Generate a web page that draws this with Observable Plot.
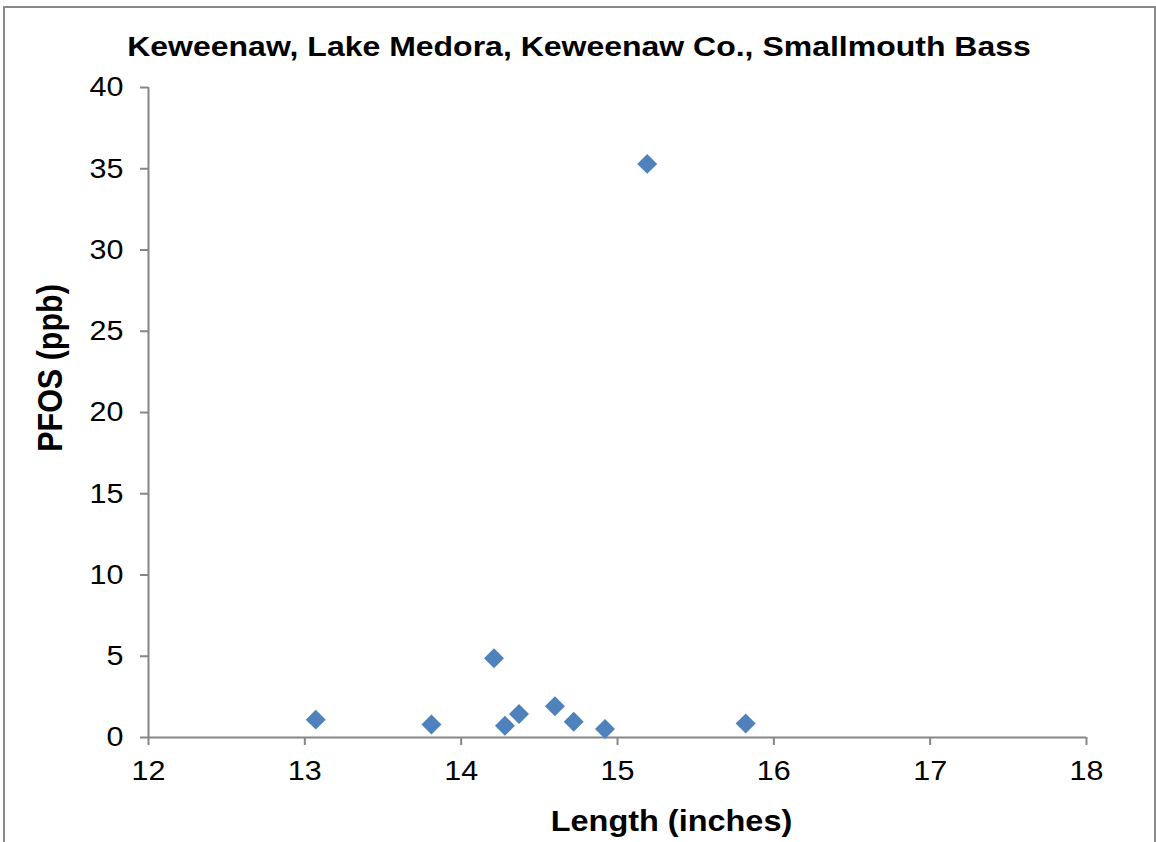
<!DOCTYPE html>
<html>
<head>
<meta charset="utf-8">
<script src="https://cdn.jsdelivr.net/npm/d3@7"></script>
<script src="https://cdn.jsdelivr.net/npm/@observablehq/plot@0.6"></script>
<style>
  html, body { margin: 0; padding: 0; background: #fff; }
  #wrap { position: relative; width: 1156px; height: 842px; overflow: hidden; font-family: "Liberation Sans", Arial, sans-serif; }
  #frame { position: absolute; left: 3px; top: 6px; width: 1153px; height: 900px; box-sizing: border-box; border: 2px solid #8a8a8a; border-bottom: none; }
  #chart { position: absolute; left: 0; top: 0; }
  #labels { position: absolute; left: 0; top: 0; pointer-events: none; }
</style>
</head>
<body>
<div id="wrap">
  <div id="frame"></div>
  <div id="chart"></div>
  <svg id="labels" width="1156" height="842"></svg>
</div>
<script>
// ---- data ----
const title = "Keweenaw, Lake Medora, Keweenaw Co., Smallmouth Bass";
const xLabel = "Length (inches)";
const yLabel = "PFOS (ppb)";
const lengths = [13.07, 13.81, 14.21, 14.28, 14.37, 14.60, 14.72, 14.92, 15.19, 15.82];
const pfos    = [1.1,   0.8,   4.87,  0.72,  1.44,  1.93,  0.97,  0.52,  35.3,  0.86];
const xTicks = [12, 13, 14, 15, 16, 17, 18];
const yTicks = [0, 5, 10, 15, 20, 25, 30, 35, 40];

const rows = lengths.map((x, i) => ({length: x, pfos: pfos[i]}));

const axisGray = "#868686";
const chart = Plot.plot({
  width: 1156,
  height: 842,
  marginLeft: 148,
  marginRight: 70,
  marginTop: 87,
  marginBottom: 105,
  style: {fontFamily: "'Liberation Sans', Arial, sans-serif", background: "transparent", color: "black"},
  x: {domain: [xTicks[0], xTicks[xTicks.length - 1]]},
  y: {domain: [yTicks[0], yTicks[yTicks.length - 1]]},
  marks: [
    Plot.ruleY([yTicks[0]], {stroke: axisGray, strokeWidth: 2}),
    Plot.ruleX([xTicks[0]], {stroke: axisGray, strokeWidth: 2}),
    Plot.axisX({ticks: xTicks, tickFormat: d3.format("d"), tickSize: 8, tickPadding: 15, stroke: axisGray, strokeWidth: 2, fill: "black", fontSize: 28, label: null}),
    Plot.axisY({ticks: yTicks, tickFormat: d3.format("d"), tickSize: 8, tickPadding: 17, stroke: axisGray, strokeWidth: 2, fill: "black", fontSize: 28, label: null}),
    Plot.dot(rows, {x: "length", y: "pfos", symbol: "diamond2", r: 9, fill: "#4f81bd", stroke: "none"})
  ]
});
document.getElementById("chart").appendChild(chart);

// widen tick labels slightly (the reference font renders wide), keeping each label's anchor fixed
function widen(selector, anchorSide) {
  d3.select(chart).selectAll(selector).each(function() {
    const text = this;
    const parent = text.parentNode;
    const r = text.getBoundingClientRect();
    const pt = chart.createSVGPoint();
    pt.x = anchorSide === "end" ? r.right : (r.left + r.right) / 2;
    pt.y = (r.top + r.bottom) / 2;
    const loc = pt.matrixTransform(parent.getScreenCTM().inverse());
    const g = document.createElementNS("http://www.w3.org/2000/svg", "g");
    g.setAttribute("transform", `translate(${loc.x},${loc.y}) scale(1.09,1) translate(${-loc.x},${-loc.y})`);
    parent.insertBefore(g, text);
    g.appendChild(text);
  });
}
widen("g[aria-label='x-axis tick label'] text", "middle");
widen("g[aria-label='y-axis tick label'] text", "end");

// titles
const lab = d3.select("#labels")
  .attr("font-family", "'Liberation Sans', Arial, sans-serif")
  .attr("font-weight", "bold")
  .attr("fill", "black");
lab.append("text")
  .attr("transform", "translate(579,55.5) scale(1.185,1)")
  .attr("text-anchor", "middle")
  .attr("font-size", 27)
  .text(title);
lab.append("text")
  .attr("transform", "translate(671.5,831) scale(1.1,1)")
  .attr("text-anchor", "middle")
  .attr("font-size", 29.5)
  .text(xLabel);
lab.append("text")
  .attr("transform", "translate(61.7,368) scale(1.15,1) rotate(-90)")
  .attr("text-anchor", "middle")
  .attr("font-size", 30.5)
  .text(yLabel);
</script>
</body>
</html>
